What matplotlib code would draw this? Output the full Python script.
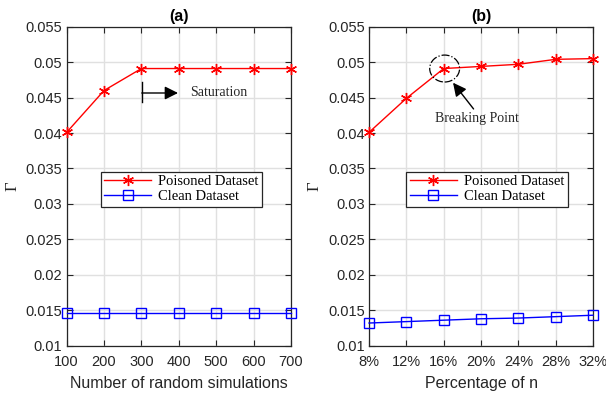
import matplotlib
matplotlib.use("Agg")
import matplotlib.pyplot as plt
from matplotlib.patches import Ellipse

# data
sims = [100, 200, 300, 400, 500, 600, 700]
poison_a = [0.0401, 0.0460, 0.0491, 0.0491, 0.0491, 0.0491, 0.0491]
clean_a = [0.0146, 0.0146, 0.0146, 0.0146, 0.0146, 0.0146, 0.0146]

pct = [8, 12, 16, 20, 24, 28, 32]
pct_labels = ['8%', '12%', '16%', '20%', '24%', '28%', '32%']
poison_b = [0.0401, 0.0449, 0.0491, 0.0494, 0.0497, 0.0504, 0.0505]
clean_b = [0.0132, 0.0134, 0.0136, 0.0138, 0.0139, 0.0141, 0.0143]

yticks = [0.01, 0.015, 0.02, 0.025, 0.03, 0.035, 0.04, 0.045, 0.05, 0.055]
ytick_labels = ['0.01', '0.015', '0.02', '0.025', '0.03', '0.035', '0.04', '0.045', '0.05', '0.055']

plt.rcParams['font.family'] = ['Liberation Sans', 'DejaVu Sans']
TXT = '#262626'
serif = ['Liberation Serif', 'DejaVu Serif']

fig = plt.figure(figsize=(6.06, 3.97), dpi=100)
axA = fig.add_axes([0.110, 0.1292, 0.370, 0.8035])
axB = fig.add_axes([0.609, 0.1292, 0.3696, 0.8035])

asterisk = (6, 2, 0)

def style(ax, x, xlabels, xlabel, title):
    ax.set_ylim(0.01, 0.055)
    ax.set_xlim(x[0], x[-1])
    ax.set_yticks(yticks)
    ax.set_yticklabels(ytick_labels)
    ax.set_xticks(x)
    ax.set_xticklabels(xlabels)
    ax.grid(True, color='#e0e0e0', linewidth=1.0)
    ax.set_axisbelow(True)
    ax.tick_params(direction='in', top=True, right=True, labelsize=10.5,
                   colors=TXT, length=4, width=0.8)
    ax.tick_params(axis='x', pad=7)
    ax.tick_params(axis='y', pad=3)
    for s in ax.spines.values():
        s.set_color(TXT)
        s.set_linewidth(0.9)
    ax.set_xlabel(xlabel, fontsize=11.5, color=TXT, labelpad=5)
    ax.set_ylabel('Γ', fontsize=12, family=serif, color=TXT, labelpad=4)
    ax.set_title(title, fontsize=11.5, fontweight='bold', color='black', pad=4)

axA.plot(sims, poison_a, color='red', marker=asterisk, ms=8, mew=1.0,
         lw=1.0, label='Poisoned Dataset', clip_on=False, zorder=5)
axA.plot(sims, clean_a, color='blue', marker='s', mfc='none', ms=7, mew=1.0,
         lw=1.0, label='Clean Dataset', clip_on=False, zorder=5)
style(axA, sims, [str(s) for s in sims], 'Number of random simulations', '(a)')

axB.plot(pct, poison_b, color='red', marker=asterisk, ms=8, mew=1.0,
         lw=1.0, label='Poisoned Dataset', clip_on=False, zorder=5)
axB.plot(pct, clean_b, color='blue', marker='s', mfc='none', ms=7, mew=1.0,
         lw=1.0, label='Clean Dataset', clip_on=False, zorder=5)
style(axB, pct, pct_labels, 'Percentage of n', '(b)')

for ax, cx in ((axA, 0.512), (axB, 0.527)):
    leg = ax.legend(loc='center', bbox_to_anchor=(cx, 0.491), frameon=True,
                    fancybox=False, framealpha=1, edgecolor=TXT,
                    prop={'family': serif, 'size': 10.5}, handlelength=3.2,
                    borderpad=0.25, labelspacing=0.1, handletextpad=0.5,
                    borderaxespad=0)
    leg.get_frame().set_linewidth(0.9)

# Saturation annotation
axA.plot([301, 301], [0.0444, 0.0472], color='black', lw=1.0)
axA.annotate('', xy=(398, 0.04565), xytext=(301, 0.04565),
             arrowprops=dict(arrowstyle='-|>', color='black', lw=1.0,
                             mutation_scale=20, shrinkA=0, shrinkB=0))
axA.text(430, 0.04565, 'Saturation', family=serif, fontsize=10,
         va='center', ha='left', color=TXT)

# Breaking point annotation
ell = Ellipse((16.1, 0.0491), width=3.2, height=0.0038, fill=False,
              linestyle='-.', edgecolor='black', lw=0.9, zorder=6)
axB.add_patch(ell)
axB.annotate('', xy=(17.0, 0.0471), xytext=(19.2, 0.0434),
             arrowprops=dict(arrowstyle='-|>', color='black', lw=1.0,
                             mutation_scale=20, shrinkA=0, shrinkB=0))
axB.text(19.6, 0.0421, 'Breaking Point', family=serif, fontsize=10,
         va='center', ha='center', color=TXT)

fig.savefig('out.png', dpi=100)
